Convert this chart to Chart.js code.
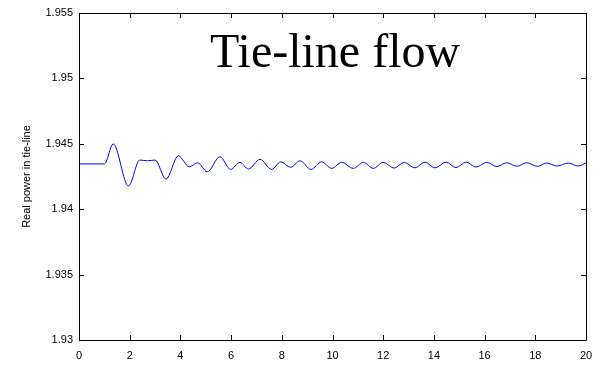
<!DOCTYPE html>
<html>
<head>
<meta charset="utf-8">
<script src="https://cdn.jsdelivr.net/npm/chart.js@4"></script>
<style>
  html, body { margin: 0; padding: 0; background: #fff; }
  #wrap { width: 596px; height: 366px; }
</style>
</head>
<body>
<div id="wrap"><canvas id="chart"></canvas></div>
<script>
// time (s) and tie-line real power
const times = [0, 1.0, 1.35, 1.95, 2.4, 2.7, 3.0, 3.43, 3.92, 4.35, 4.68, 5.06, 5.56, 5.98,
    6.35, 6.68, 7.14, 7.6, 7.96, 8.35, 8.72, 9.15, 9.57, 9.97, 10.36, 10.82, 11.22, 11.61,
    12.0, 12.43, 12.83, 13.25, 13.65, 14.04, 14.48, 14.87, 15.27, 15.66, 16.08, 16.48,
    16.87, 17.27, 17.66, 18.08, 18.45, 18.85, 19.3, 19.7, 20];
const power = [1.94346, 1.94346, 1.94499, 1.94177, 1.94376, 1.94370, 1.94376, 1.94230,
    1.94408, 1.94324, 1.94355, 1.94286, 1.94401, 1.94304, 1.94358, 1.94307, 1.94381,
    1.94304, 1.94362, 1.94320, 1.94370, 1.94304, 1.94362, 1.94312, 1.94358, 1.94312,
    1.94358, 1.94312, 1.94358, 1.94314, 1.94358, 1.94316, 1.94360, 1.94316, 1.94360,
    1.94318, 1.94360, 1.94322, 1.94358, 1.94326, 1.94355, 1.94328, 1.94355, 1.94328,
    1.94353, 1.94330, 1.94353, 1.94330, 1.94355];

const xTicks = [0, 2, 4, 6, 8, 10, 12, 14, 16, 18, 20];
const yTicks = [1.93, 1.935, 1.94, 1.945, 1.95, 1.955];

const plotTitle = "Tie-line flow";
const yLabel = "Real power in tie-line";

// MATLAB-style box with inward ticks and the title inside the axes
const matlabBox = {
    id: "matlabBox",
    afterDraw(chart) {
        const ctx = chart.ctx;
        const a = chart.chartArea;
        const xs = chart.scales.x, ys = chart.scales.y;
        ctx.save();
        ctx.strokeStyle = "#000";
        ctx.lineWidth = 1;
        ctx.beginPath();
        ctx.rect(Math.round(a.left) + 0.5, Math.round(a.top) + 0.5,
            Math.round(a.right - a.left), Math.round(a.bottom - a.top));
        const len = 5;
        xTicks.forEach(v => {
            const px = Math.round(xs.getPixelForValue(v)) + 0.5;
            ctx.moveTo(px, a.bottom); ctx.lineTo(px, a.bottom - len);
            ctx.moveTo(px, a.top); ctx.lineTo(px, a.top + len);
        });
        yTicks.forEach(v => {
            const py = Math.round(ys.getPixelForValue(v)) + 0.5;
            ctx.moveTo(a.left, py); ctx.lineTo(a.left + len, py);
            ctx.moveTo(a.right, py); ctx.lineTo(a.right - len, py);
        });
        ctx.stroke();

        ctx.fillStyle = "#000";
        ctx.font = '48px "Liberation Serif", "Times New Roman", serif';
        ctx.textAlign = "center";
        ctx.textBaseline = "alphabetic";
        ctx.fillText(plotTitle, xs.getPixelForValue(10.1), ys.getPixelForValue(1.95087));
        ctx.restore();
    }
};

new Chart(document.getElementById("chart"), {
    type: "line",
    data: {
        datasets: [{
            data: times.map((t, i) => ({ x: t, y: power[i] })),
            borderColor: "#0000ff",
            borderWidth: 1,
            pointRadius: 0,
            fill: false,
            cubicInterpolationMode: "monotone"
        }]
    },
    options: {
        responsive: true,
        maintainAspectRatio: false,
        animation: false,
        layout: { padding: { top: 13, right: 10, left: 0, bottom: 0 } },
        plugins: {
            legend: { display: false },
            tooltip: { enabled: false }
        },
        scales: {
            x: {
                type: "linear",
                min: 0,
                max: 20,
                afterBuildTicks: s => { s.ticks = xTicks.map(v => ({ value: v })); },
                afterFit: s => { s.height = 26; s.paddingLeft = 0; s.paddingRight = 0; },
                grid: { display: false, drawTicks: false },
                border: { display: false },
                ticks: {
                    color: "#000",
                    padding: 9,
                    maxRotation: 0,
                    font: { family: '"Liberation Sans", Arial, sans-serif', size: 11 }
                }
            },
            y: {
                min: 1.93,
                max: 1.955,
                afterBuildTicks: s => { s.ticks = yTicks.map(v => ({ value: v })); },
                afterFit: s => { s.width = 79; s.paddingTop = 0; s.paddingBottom = 0; },
                grid: { display: false, drawTicks: false },
                border: { display: false },
                ticks: {
                    color: "#000",
                    padding: 6,
                    font: { family: '"Liberation Sans", Arial, sans-serif', size: 11 },
                    callback: v => String(Number(v.toFixed(3)))
                },
                title: {
                    display: true,
                    text: yLabel,
                    color: "#000",
                    padding: { top: 20, bottom: 0 },
                    font: { family: '"Liberation Sans", Arial, sans-serif', size: 11 }
                }
            }
        }
    },
    plugins: [matlabBox]
});
</script>
</body>
</html>
